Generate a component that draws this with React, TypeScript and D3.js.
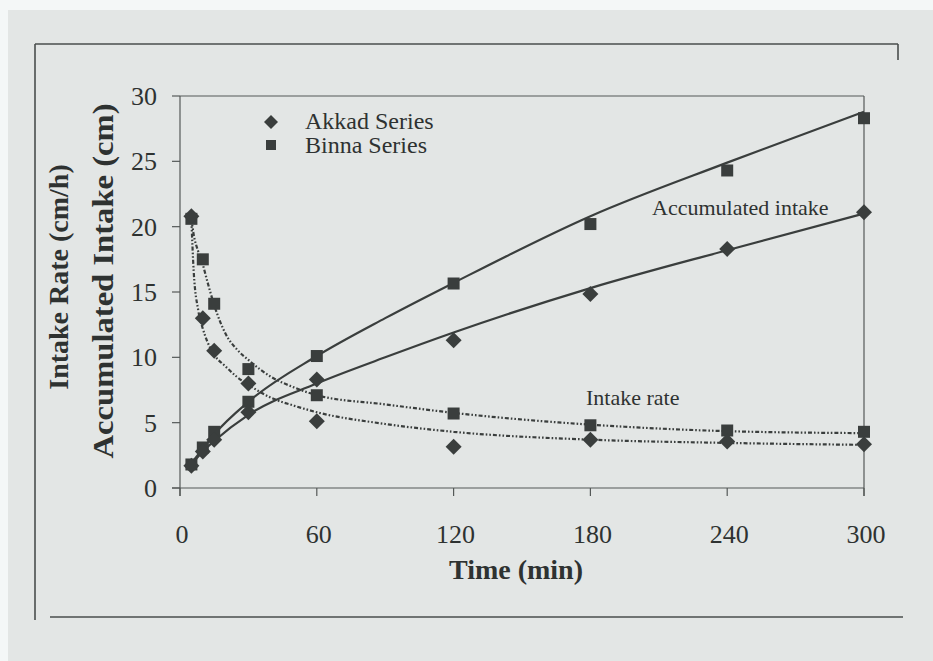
import React from 'react';
import * as d3 from 'd3';

// measured points (min, cm and cm/h)
const times = [5, 10, 15, 30, 60, 120, 180, 240, 300];
const akkadAccum = [1.7, 2.8, 3.7, 5.8, 8.3, 11.3, 14.85, 18.3, 21.1];
const binnaAccum = [1.8, 3.1, 4.3, 6.6, 10.1, 15.65, 20.2, 24.3, 28.3];
const akkadRate = [20.8, 13.0, 10.5, 8.0, 5.1, 3.15, 3.7, 3.55, 3.35];
const binnaRate = [20.6, 17.5, 14.1, 9.1, 7.1, 5.7, 4.8, 4.4, 4.3];

// fitted curves
const accumFitTimes = [5, 10, 15, 30, 60, 90, 120, 180, 240, 300];
const akkadAccumFit = [1.8, 2.8, 3.6, 5.6, 8.0, 10.0, 11.9, 15.3, 18.2, 21.0];
const binnaAccumFit = [1.9, 3.0, 4.1, 6.6, 10.1, 13.0, 15.7, 20.8, 24.9, 28.8];

const rateFitTimes = [5, 6, 8, 10, 12, 15, 20, 25, 30, 40, 50, 60, 90, 120, 180, 240, 300];
const akkadRateFit = [20.5, 16.6, 13.6, 12.2, 11.2, 10.2, 9.3, 8.5, 7.9, 6.9, 6.3, 5.8, 4.9, 4.3, 3.7, 3.45, 3.3];
const binnaRateFit = [20.6, 19.4, 18.1, 17.1, 15.8, 14.0, 11.8, 10.6, 9.8, 8.5, 7.7, 7.1, 6.4, 5.75, 4.85, 4.35, 4.2];

const xTicks = [0, 60, 120, 180, 240, 300];
const yTicks = [0, 5, 10, 15, 20, 25, 30];

const W = 933;
const H = 661;
const ink = '#3a3e3d';
const bg = '#e3e6e5';
const serif = '"Liberation Serif", "Times New Roman", serif';

const x = d3.scaleLinear().domain([0, 300]).range([180, 864]);
const y = d3.scaleLinear().domain([0, 30]).range([488, 96]);

const line = (ts: number[], vs: number[]) =>
  d3.line<number>()
    .x((_, i) => x(ts[i]))
    .y(d => y(d))
    .curve(d3.curveMonotoneX)(vs) || '';

const diamond = (cx: number, cy: number, r: number) =>
  `M${cx},${cy - r}L${cx + r},${cy}L${cx},${cy + r}L${cx - r},${cy}Z`;

export default function App() {
  const dash = '4,2,1.6,2,1.6,2';
  return (
    <svg width={W} height={H} style={{ position: 'absolute', left: 0, top: 0, fontFamily: serif }}>
      <rect x={0} y={0} width={W} height={H} fill="#f4f7f7" />
      <rect x={8} y={10} width={W - 8} height={H - 10} fill={bg} />

      {/* outer frame */}
      <g stroke="#4a4e4d" strokeWidth={1.6} fill="none">
        <line x1={35} y1={44} x2={898} y2={44} />
        <line x1={35} y1={44} x2={35} y2={620} />
        <line x1={898} y1={44} x2={898} y2={60} />
        <line x1={50} y1={617} x2={903} y2={617} />
      </g>

      {/* plot frame and ticks */}
      <g stroke="#555958" strokeWidth={1.2} fill="none">
        <line x1={x(0)} y1={y(30)} x2={x(300)} y2={y(30)} />
        <line x1={x(300)} y1={y(30)} x2={x(300)} y2={y(0) + 8} />
        <line x1={x(0)} y1={y(30)} x2={x(0)} y2={y(0) + 8} />
        <line x1={x(0) - 8} y1={y(0)} x2={x(300)} y2={y(0)} />
        {yTicks.map(t => (
          <line key={'yt' + t} x1={x(0) - 8} y1={y(t)} x2={x(0)} y2={y(t)} />
        ))}
        {xTicks.map(t => (
          <line key={'xt' + t} x1={x(t)} y1={y(0)} x2={x(t)} y2={y(0) + 8} />
        ))}
      </g>

      {/* tick labels */}
      <g fill="#2e3231" fontSize={26}>
        {yTicks.map(t => (
          <text key={'yl' + t} x={x(0) - 23} y={y(t) + 9} textAnchor="end">{t}</text>
        ))}
        {xTicks.map(t => (
          <text key={'xl' + t} x={x(t) + 2} y={y(0) + 55} textAnchor="middle">{t}</text>
        ))}
      </g>

      {/* axis titles */}
      <text x={516} y={579} textAnchor="middle" fontSize={28} fontWeight="bold" fill="#2e3231">Time (min)</text>
      <text transform={`translate(68,277) rotate(-90)`} textAnchor="middle" fontSize={28} fontWeight="bold" fill="#2e3231">Intake Rate (cm/h)</text>
      <text transform={`translate(113,281) rotate(-90)`} textAnchor="middle" fontSize={30} fontWeight="bold" fill="#2e3231"
        textLength={355} lengthAdjust="spacingAndGlyphs">Accumulated Intake (cm)</text>

      {/* fitted curves */}
      <g fill="none" stroke={ink}>
        <path d={line(accumFitTimes, akkadAccumFit)} strokeWidth={2.2} />
        <path d={line(accumFitTimes, binnaAccumFit)} strokeWidth={2.2} />
        <path d={line(rateFitTimes, akkadRateFit)} strokeWidth={2.2} strokeDasharray={dash} />
        <path d={line(rateFitTimes, binnaRateFit)} strokeWidth={2.2} strokeDasharray={dash} />
      </g>

      {/* markers */}
      <g fill={ink}>
        {times.map((t, i) => (
          <rect key={'ba' + t} x={x(t) - 6} y={y(binnaAccum[i]) - 6} width={12} height={12} />
        ))}
        {times.map((t, i) => (
          <rect key={'br' + t} x={x(t) - 6} y={y(binnaRate[i]) - 6} width={12} height={12} />
        ))}
        {times.map((t, i) => (
          <path key={'aa' + t} d={diamond(x(t), y(akkadAccum[i]), 8)} />
        ))}
        {times.map((t, i) => (
          <path key={'ar' + t} d={diamond(x(t), y(akkadRate[i]), 8)} />
        ))}
      </g>

      {/* legend */}
      <path d={diamond(271, 122, 7)} fill={ink} />
      <rect x={266} y={140} width={10} height={10} fill={ink} />
      <g fill="#2e3231" fontSize={24}>
        <text x={305} y={129}>Akkad Series</text>
        <text x={305} y={153}>Binna Series</text>
      </g>

      {/* annotations */}
      <g fill="#2e3231" fontSize={22}>
        <text x={652} y={215}>Accumulated intake</text>
        <text x={586} y={405}>Intake rate</text>
      </g>
    </svg>
  );
}
